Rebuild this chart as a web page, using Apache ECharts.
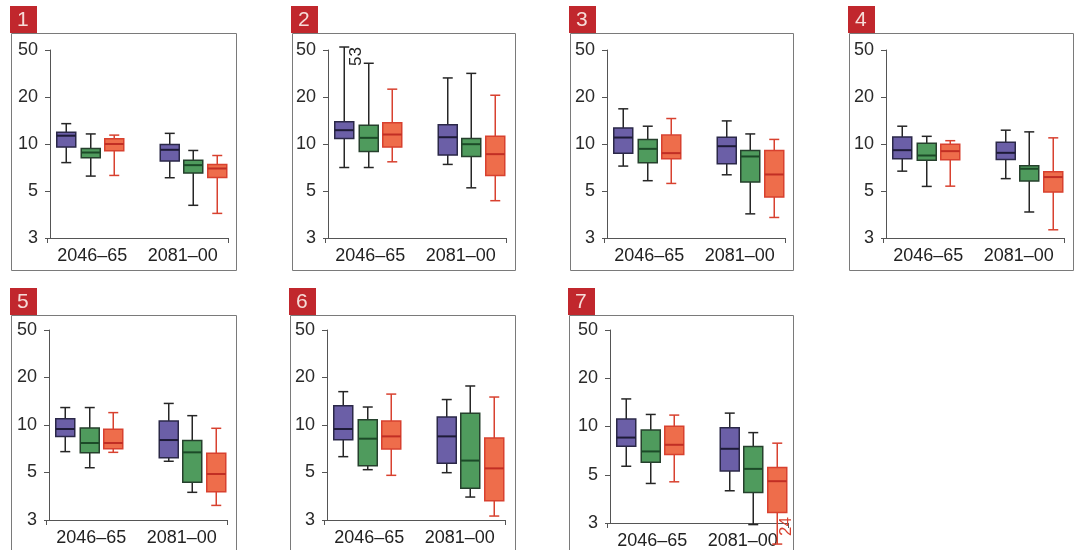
<!DOCTYPE html>
<html><head><meta charset="utf-8">
<script src="https://cdn.jsdelivr.net/npm/echarts@6/dist/echarts.min.js"></script>
<style>html,body{margin:0;padding:0;background:#fff}#c{width:1082px;height:550px}</style>
</head><body><div id="c"></div>
<script>
// ---- data ----
const categories = ['2046–65', '2081–00'];
const yTicks = [3, 5, 10, 20, 50];
const panelNames = ['1', '2', '3', '4', '5', '6', '7'];
// each box: [min, Q1, median, Q3, max]; first 2046–65, then 2081–00
const purple1 = [[7.6, 9.55, 11.3, 11.9, 13.5], [6.08, 7.77, 9.18, 9.93, 11.7]];
const green1  = [[6.23, 8.16, 8.82, 9.36, 11.6], [4.28, 6.51, 7.32, 7.88, 9.09]];
const orange1 = [[6.29, 9.04, 10.0, 10.8, 11.4], [3.92, 6.11, 6.97, 7.40, 8.44]];
const purple2 = [[7.07, 10.84, 12.26, 13.86, 53], [7.40, 8.49, 11.05, 13.3, 29.0]];
const green2  = [[7.07, 8.96, 10.95, 13.2, 38.6], [5.24, 8.32, 9.97, 10.84, 31.7]];
const orange2 = [[7.69, 9.55, 11.5, 13.7, 23.3], [4.5, 6.29, 8.61, 11.2, 20.7]];
const purple3 = [[7.22, 8.74, 11.0, 12.68, 16.8], [6.35, 7.47, 9.68, 11.05, 14.06]];
const green3  = [[5.82, 7.58, 9.31, 10.7, 13.0], [3.9, 5.7, 8.32, 9.09, 11.6]];
const orange3 = [[5.59, 8.04, 8.74, 11.4, 14.56], [3.75, 4.68, 6.38, 9.09, 10.7]];
const purple4 = [[6.70, 8.04, 9.13, 11.1, 13.0], [6.0, 7.96, 8.78, 10.27, 12.26]];
const green4  = [[5.35, 7.88, 8.44, 10.1, 11.2], [3.98, 5.79, 6.94, 7.25, 11.96]];
const orange4 = [[5.37, 7.92, 9.0, 9.97, 10.5], [3.28, 4.94, 6.14, 6.64, 10.95]];
const purple5 = [[6.78, 8.47, 9.43, 10.97, 12.9], [5.89, 6.21, 8.03, 10.6, 13.7]];
const green5  = [[5.36, 6.68, 7.69, 9.58, 12.9], [4.04, 4.5, 6.71, 7.99, 11.46]];
const orange5 = [[6.71, 7.08, 7.69, 9.39, 11.98], [3.51, 4.07, 4.92, 6.62, 9.53]];
const purple6 = [[6.3, 8.07, 9.43, 13.26, 16.27], [4.99, 5.72, 8.47, 11.24, 14.5]];
const green6  = [[5.21, 5.52, 8.19, 10.8, 13.0], [3.84, 4.22, 5.95, 11.86, 17.67]];
const orange6 = [[4.85, 7.05, 8.47, 10.6, 15.7], [3.13, 3.69, 5.31, 8.27, 15.04]];
const purple7 = [[5.65, 7.54, 8.53, 11.13, 14.86], [4.22, 5.28, 7.26, 9.83, 12.12]];
const green7  = [[4.56, 5.99, 6.99, 9.51, 11.89], [2.95, 4.14, 5.44, 7.51, 9.16]];
const orange7 = [[4.64, 6.70, 7.69, 10.02, 11.78], [2.4, 3.35, 4.67, 5.54, 7.87]];

const purpleSets = [purple1, purple2, purple3, purple4, purple5, purple6, purple7];
const greenSets = [green1, green2, green3, green4, green5, green6, green7];
const orangeSets = [orange1, orange2, orange3, orange4, orange5, orange6, orange7];
const colorSets = [purpleSets, greenSets, orangeSets];

// ---- layout / style ----
const layout = [
  {a: 50,  top: 50,  bottom: 238, fx: 11,  fy: 33,  fw: 225, fh: 237},
  {a: 328, top: 50,  bottom: 238, fx: 292, fy: 33,  fw: 223, fh: 237},
  {a: 607, top: 50,  bottom: 238, fx: 570, fy: 33,  fw: 223, fh: 237},
  {a: 886, top: 50,  bottom: 238, fx: 849, fy: 33,  fw: 224, fh: 237},
  {a: 49,  top: 330, bottom: 520, fx: 11,  fy: 315, fw: 225, fh: 260},
  {a: 327, top: 330, bottom: 520, fx: 290, fy: 315, fw: 225, fh: 260},
  {a: 610, top: 330, bottom: 525, fx: 569, fy: 315, fw: 224, fh: 260}
];
const boxOffsets = [[-26, -1.5, 22], [-13, 10.5, 34.5]];
const styles = [
  {fill: '#6b5fa7', stroke: '#2b2848', median: '#1e1b38', whisker: '#262626'},
  {fill: '#4f9b5d', stroke: '#26402d', median: '#1c4a28', whisker: '#262626'},
  {fill: '#ee6d4b', stroke: '#d8412f', median: '#c12e24', whisker: '#d8412f'}
];
const BOX_W = 19, CAP_W = 10;

function toPos(v) {
  const t = yTicks;
  let i = 0;
  while (i < t.length - 2 && v > t[i + 1]) i++;
  return i + Math.log(v / t[i]) / Math.log(t[i + 1] / t[i]);
}

function makeRender(ci) {
  return function (params, api) {
    const cat = api.value(0);
    const st = styles[ci];
    const cx = api.coord([cat, api.value(3)])[0] + boxOffsets[cat][ci];
    const y = k => api.coord([cat, api.value(k)])[1];
    const yMin = y(1), yQ1 = y(2), yMed = y(3), yQ3 = y(4), yMax = y(5);
    const rawMin = api.value(6), rawMax = api.value(7);
    const ws = {stroke: st.whisker, lineWidth: 1.5};
    const ch = [
      {type: 'line', shape: {x1: cx, y1: yMax, x2: cx, y2: yQ3}, style: ws},
      {type: 'line', shape: {x1: cx, y1: yQ1, x2: cx, y2: yMin}, style: ws},
      {type: 'line', shape: {x1: cx - CAP_W / 2, y1: yMax, x2: cx + CAP_W / 2, y2: yMax}, style: ws},
      {type: 'line', shape: {x1: cx - CAP_W / 2, y1: yMin, x2: cx + CAP_W / 2, y2: yMin}, style: ws},
      {type: 'rect', shape: {x: cx - BOX_W / 2, y: yQ3, width: BOX_W, height: yQ1 - yQ3},
        style: {fill: st.fill, stroke: st.stroke, lineWidth: 1.5}},
      {type: 'line', shape: {x1: cx - BOX_W / 2, y1: yMed, x2: cx + BOX_W / 2, y2: yMed},
        style: {stroke: st.median, lineWidth: 2}}
    ];
    const font = '17px "Liberation Sans", Arial, sans-serif';
    if (rawMax > yTicks[yTicks.length - 1]) {
      ch.push({type: 'text', x: cx + 12, y: yMax, rotation: Math.PI / 2,
        style: {text: String(rawMax).replace('.', ''), fill: st.whisker, font, align: 'right', verticalAlign: 'middle'}});
    }
    if (rawMin < yTicks[0] * 0.9) {
      ch.push({type: 'text', x: cx + 9, y: yMin - 8, rotation: Math.PI / 2,
        style: {text: String(rawMin).replace('.', ''), fill: st.whisker, font, align: 'left', verticalAlign: 'middle'}});
    }
    return {type: 'group', children: ch};
  };
}

const grids = [], xAxes = [], yAxes = [], series = [], graphics = [];
layout.forEach((L, p) => {
  grids.push({left: L.a - 3, width: 181, top: L.top, height: L.bottom - L.top});
  xAxes.push({
    type: 'category', gridIndex: p, data: categories, boundaryGap: true,
    axisLine: {show: true, lineStyle: {color: '#555', width: 1}},
    axisTick: {show: true, interval: (i) => i === 1, length: 5, lineStyle: {color: '#555'}},
    axisLabel: {fontSize: 18, color: '#222', margin: 9, fontFamily: 'Liberation Sans', interval: 0}
  });
  yAxes.push({
    type: 'value', gridIndex: p, min: 0, max: 4, interval: 1, offset: -3,
    axisLine: {show: true, lineStyle: {color: '#555', width: 1}},
    axisTick: {show: true, length: 5, lineStyle: {color: '#555'}},
    splitLine: {show: false},
    axisLabel: {fontSize: 18, color: '#2a2a2a', margin: 12, fontFamily: 'Liberation Sans',
      formatter: v => String(yTicks[Math.round(v)])}
  });
  colorSets.forEach((sets, ci) => {
    series.push({
      type: 'custom', xAxisIndex: p, yAxisIndex: p, clip: false,
      renderItem: makeRender(ci),
      encode: {x: 0, y: [1, 2, 3, 4, 5]},
      data: sets[p].map((b, i) => [i].concat(b.map(toPos), [b[0], b[4]])),
      z: 3
    });
  });
  graphics.push({type: 'rect', shape: {x: L.fx + 0.5, y: L.fy + 0.5, width: L.fw, height: L.fh},
    style: {fill: 'none', stroke: '#7a7a7a', lineWidth: 1}, z: 1});
  graphics.push({type: 'rect', shape: {x: L.fx - 1, y: L.fy - 27, width: 27, height: 27},
    style: {fill: '#c1272d'}, z: 2});
  graphics.push({type: 'text', x: L.fx + 6, y: L.fy - 13,
    style: {text: panelNames[p], fill: '#f6dcd8', font: '21px "Liberation Sans", Arial, sans-serif', verticalAlign: 'middle'}, z: 3});
});

const chart = echarts.init(document.getElementById('c'), null, {renderer: 'canvas'});
chart.setOption({
  animation: false,
  backgroundColor: '#fff',
  grid: grids, xAxis: xAxes, yAxis: yAxes, series,
  graphic: {elements: graphics}
});
</script></body></html>
